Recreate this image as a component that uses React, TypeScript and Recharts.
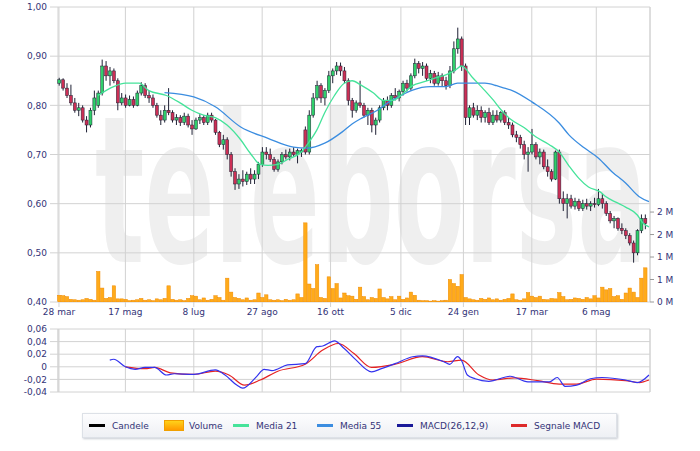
import React from 'react';
import { ComposedChart, Bar, Line, XAxis, YAxis, CartesianGrid } from 'recharts';

// ---- axis / tick data ----
const DAYS = 303; // trading-day slots on the x axis
const tickDays = [0, 34, 69, 104, 139, 175, 207, 242, 275];
const tickLabels = ['28 mar', '17 mag', '8 lug', '27 ago', '16 ott', '5 dic', '24 gen', '17 mar', '6 mag'];
const priceTicks = [400, 500, 600, 700, 800, 900, 1000];
const volTicks = [0, 500, 1000, 1500, 2000];
const volTickLabels = ['0 M', '1 M', '1 M', '2 M', '2 M'];
const macdTicks = [-40, -20, 0, 20, 40, 60];

// ---- candles (every second trading day), [open, high, low, close] in thousandths ----
const ohlc: number[][] = [
  [845, 856, 840, 852], [852, 855, 830, 835], [835, 845, 815, 820], [820, 842, 800, 805], [805, 815, 785, 790],
  [790, 805, 778, 795], [795, 800, 765, 770], [770, 778, 745, 760], [760, 795, 755, 790], [790, 830, 780, 815],
  [800, 830, 795, 825], [825, 893, 820, 880], [880, 890, 850, 860], [860, 878, 840, 870], [870, 875, 845, 850],
  [850, 855, 790, 805], [805, 825, 800, 815], [815, 822, 795, 800], [800, 820, 798, 812], [812, 818, 795, 800],
  [800, 830, 798, 825], [825, 847, 820, 840], [840, 845, 815, 820], [820, 830, 805, 815], [815, 822, 795, 800],
  [800, 805, 775, 780], [780, 790, 760, 770], [770, 800, 765, 790], [790, 835, 780, 785], [785, 790, 765, 770],
  [770, 782, 760, 775], [775, 780, 758, 765], [765, 785, 760, 778], [778, 783, 755, 760], [760, 770, 740, 752],
  [752, 775, 750, 770], [770, 782, 762, 775], [775, 780, 760, 765], [765, 785, 760, 780], [780, 785, 765, 770],
  [770, 772, 740, 745], [745, 748, 715, 720], [720, 740, 710, 730], [730, 735, 690, 700], [700, 705, 655, 665],
  [665, 672, 628, 640], [640, 660, 630, 650], [650, 668, 635, 645], [645, 665, 638, 660], [660, 672, 640, 650],
  [650, 668, 640, 660], [660, 685, 650, 680], [680, 715, 675, 705], [705, 715, 690, 700], [700, 712, 685, 690],
  [690, 695, 665, 670], [670, 690, 665, 685], [685, 705, 680, 700], [700, 710, 690, 695], [695, 712, 688, 705],
  [705, 715, 695, 700], [700, 712, 682, 708], [705, 712, 695, 708], [750, 757, 700, 705], [705, 790, 700, 780],
  [780, 825, 775, 815], [815, 850, 810, 840], [840, 845, 805, 815], [815, 835, 800, 830], [830, 870, 825, 860],
  [860, 875, 845, 870], [870, 888, 862, 880], [880, 887, 860, 870], [870, 878, 845, 850], [850, 855, 800, 810],
  [810, 815, 775, 790], [790, 810, 785, 805], [805, 850, 795, 800], [800, 805, 775, 780], [780, 795, 760, 790],
  [790, 795, 745, 760], [760, 775, 740, 770], [770, 800, 765, 795], [795, 815, 790, 810], [810, 818, 790, 800],
  [800, 825, 795, 820], [820, 835, 810, 815], [815, 832, 808, 828], [828, 850, 820, 845], [845, 852, 828, 835],
  [835, 865, 830, 860], [860, 895, 855, 885], [885, 890, 865, 875], [875, 888, 860, 880], [880, 885, 850, 855],
  [855, 872, 845, 865], [865, 870, 840, 845], [845, 868, 840, 860], [860, 865, 838, 850], [850, 858, 832, 840],
  [840, 880, 835, 870], [870, 930, 865, 915], [915, 958, 905, 935], [935, 940, 870, 880], [880, 885, 760, 775],
  [775, 800, 760, 795], [795, 805, 775, 780], [780, 800, 770, 790], [790, 798, 765, 775], [775, 790, 765, 785],
  [785, 795, 760, 765], [765, 790, 760, 780], [780, 790, 765, 770], [770, 788, 765, 785], [785, 790, 760, 765],
  [765, 775, 752, 760], [760, 765, 735, 740], [740, 748, 725, 735], [735, 740, 712, 720], [720, 728, 690, 700],
  [700, 715, 665, 705], [705, 752, 700, 720], [720, 725, 690, 695], [695, 712, 680, 705], [705, 710, 670, 675],
  [675, 690, 655, 665], [665, 670, 645, 650], [650, 708, 648, 705], [705, 710, 600, 610], [610, 625, 585, 600],
  [600, 620, 570, 610], [610, 618, 590, 595], [595, 612, 588, 605], [605, 610, 585, 590], [590, 608, 585, 600],
  [600, 610, 588, 595], [595, 605, 585, 600], [600, 612, 592, 598], [598, 630, 595, 610], [610, 620, 590, 600],
  [600, 605, 575, 580], [580, 585, 560, 565], [565, 575, 550, 570], [570, 572, 545, 550], [550, 560, 538, 545],
  [545, 550, 528, 535], [535, 540, 515, 520], [520, 525, 480, 500], [500, 548, 495, 545], [545, 578, 540, 570],
  [570, 578, 548, 560],
];

// ---- volume (thousands of shares), same days as candles ----
const volume = [
  150, 140, 120, 60, 50, 40, 50, 80, 60, 40, 680, 310, 80, 100, 360, 70, 70, 60, 30, 40,
  50, 80, 40, 50, 30, 70, 50, 80, 360, 60, 40, 50, 30, 80, 140, 130, 50, 90, 40, 60,
  140, 100, 40, 530, 220, 100, 80, 50, 90, 40, 50, 200, 100, 160, 50, 40, 50, 30, 60, 40,
  50, 180, 100, 1760, 400, 300, 830, 100, 80, 560, 300, 410, 90, 200, 140, 130, 60, 330, 120, 50,
  100, 80, 290, 100, 70, 120, 50, 130, 60, 90, 220, 150, 40, 30, 30, 20, 30, 20, 30, 40,
  500, 410, 350, 610, 100, 70, 50, 40, 80, 60, 90, 50, 70, 40, 60, 80, 180, 50, 40, 70,
  210, 130, 100, 130, 60, 50, 80, 70, 210, 120, 50, 60, 90, 80, 60, 100, 70, 140, 90, 330,
  270, 300, 120, 140, 60, 200, 310, 220, 100, 530, 760,
];

// ---- moving averages, [day, value] ----
const ma21: number[][] = [
  [20, 820], [28, 838], [34, 845], [41, 845], [46, 830], [55, 820], [62, 805], [68, 790], [74, 780], [80, 775],
  [86, 760], [93, 730], [98, 702], [103, 680], [107, 678], [112, 680], [117, 690], [124, 705], [127, 720], [132, 750],
  [136, 785], [141, 820], [146, 845], [150, 850], [155, 840], [161, 825], [166, 810], [171, 810], [175, 820], [181, 840],
  [187, 848], [192, 855], [198, 862], [203, 872], [206, 880], [212, 855], [218, 830], [222, 812], [226, 792], [231, 772],
  [238, 755], [244, 736], [251, 720], [256, 705], [261, 677], [266, 652], [271, 634], [277, 624], [280, 614], [285, 603],
  [290, 593], [296, 577], [299, 560], [302, 553],
];
const ma55: number[][] = [
  [54, 826], [69, 817], [80, 797], [93, 756], [107, 733], [120, 715], [127, 713], [136, 723], [145, 746], [150, 762],
  [155, 774], [163, 790], [169, 807], [175, 820], [181, 831], [190, 838], [198, 838], [204, 845], [212, 845], [218, 845],
  [224, 840], [228, 835], [232, 830], [242, 807], [256, 764], [261, 740], [269, 713], [276, 693], [283, 665], [290, 642],
  [297, 614], [302, 604],
];

// ---- MACD (thousandths), [day, value] ----
const macdLine: number[][] = [
  [26, 10.6], [28, 12], [34, 0], [39, -4], [44, -1], [49, -1], [55, -13], [59, -11], [69, -12], [80, -5],
  [85, -13], [91, -29], [94, -34], [101, -16], [105, -4], [109, -6], [117, 3], [126, 5], [132, 32], [135, 33],
  [141, 41], [146, 29], [152, 11], [160, -8], [165, -3], [172, 5], [181, 16], [186, 17.5], [197, 8], [200, 4],
  [204, 16], [206, 10], [209, -13], [213, -19], [220, -23], [231, -15], [240, -24], [251, -24], [255, -17], [259, -31],
  [265, -29], [272, -19], [278, -17], [290, -21], [296, -25], [302, -13],
];
const signalLine: number[][] = [
  [34, 0], [44, -3], [49, -1], [57, -9.5], [69, -12], [80, -7], [87, -13], [95, -29], [103, -21], [112, -7],
  [126, 4], [135, 26.5], [143, 37], [151, 21], [160, -1], [172, 4], [186, 16], [199, 8], [206, 10.6], [215, -13],
  [222, -21], [233, -17.5], [245, -22], [256, -27.6], [265, -27.6], [275, -19.6], [290, -22], [297, -25], [302, -21],
];

// ---- legend ----
const legendItems = [
  { label: 'Candele', color: '#000000', kind: 'line' },
  { label: 'Volume', color: '#ffa500', kind: 'box' },
  { label: 'Media 21', color: '#45e39a', kind: 'line' },
  { label: 'Media 55', color: '#3b8de0', kind: 'line' },
  { label: 'MACD(26,12,9)', color: '#1a1a99', kind: 'line' },
  { label: 'Segnale MACD', color: '#dd2a2a', kind: 'line' },
];
const legendX = [6, 81, 150, 234, 314, 428]; // offsets inside the legend box

// ---- build table ----
type Row = { [k: string]: number | undefined };
const rows: Row[] = [];
for (let i = 0; i < DAYS; i++) rows.push({ i });
ohlc.forEach((c, k) => {
  const r = rows[k * 2];
  r.o = c[0]; r.h = c[1]; r.l = c[2]; r.c = c[3];
  r.vol = volume[k];
});
ma21.forEach(([d, v]) => { rows[d].m21 = v; });
ma55.forEach(([d, v]) => { rows[d].m55 = v; });
macdLine.forEach(([d, v]) => { rows[d].macd = v; });
signalLine.forEach(([d, v]) => { rows[d].sig = v; });

const navy = '#333377';
const font = 'DejaVu Sans';
const tickStyle = { fill: navy, fontSize: 9, fontFamily: font };
const gridColor = '#d2d2d2';

const fmtPrice = (v: number) => (v / 1000).toFixed(2).replace('.', ',');
const fmtMacd = (v: number) => (v === 0 ? '0' : (v / 1000).toFixed(2).replace('.', ','));
const fmtDay = (v: number) => tickLabels[tickDays.indexOf(v)] ?? '';
const fmtVol = (v: number) => volTickLabels[volTicks.indexOf(v)] ?? '';

const Candle = (props: any) => {
  const { x, y, width, height, payload } = props;
  if (!payload || payload.h == null || !isFinite(y) || !isFinite(height)) return null;
  const { o, h, l, c } = payload;
  const yTop = Math.min(y, y + height);
  const yBot = Math.max(y, y + height);
  const cx = x + width / 2;
  const span = h - l || 1;
  const yOf = (v: number) => yTop + ((h - v) / span) * (yBot - yTop);
  const bt = yOf(Math.max(o, c));
  const bb = yOf(Math.min(o, c));
  const up = c >= o;
  return (
    <g>
      <line x1={cx} x2={cx} y1={yTop} y2={yBot} stroke="#1e2034" strokeWidth={1} />
      <rect x={cx - 1.5} y={bt} width={3} height={Math.max(1, bb - bt)} fill={up ? '#2fcf6a' : '#cc2f55'} stroke="#1e2034" strokeWidth={0.5} />
    </g>
  );
};

const VolBar = (props: any) => {
  const { x, y, width, height, payload } = props;
  if (!payload || payload.vol == null || !isFinite(y) || !isFinite(height) || height <= 0) return null;
  const cx = x + width / 2;
  return <rect x={cx - 1.7} y={y} width={3.4} height={height} fill="#ffab1a" stroke="#f08a00" strokeWidth={0.5} />;
};

const candleRange = (d: Row) => (d.h != null ? [d.l as number, d.h as number] : null);

export default function App() {
  return (
    <div style={{ position: 'absolute', left: 0, top: 0, width: 700, height: 451, background: '#fff', overflow: 'hidden' }}>
      <svg width={700} height={320} style={{ position: 'absolute', left: 0, top: 0 }}>
        <text x={95} y={262} transform="matrix(1,0,0,2,0,-262)" fontFamily={font} fontWeight="bold" fontSize={103}
          textLength={552} lengthAdjust="spacingAndGlyphs" fill="#efefef">
          teleborsa
        </text>
      </svg>

      {/* grid, axes and volume */}
      <div style={{ position: 'absolute', left: 0, top: 0 }}>
        <ComposedChart width={700} height={320} data={rows} margin={{ top: 7, right: 0, bottom: 0, left: 0 }}>
          <CartesianGrid yAxisId="p" stroke={gridColor} horizontalValues={priceTicks} />
          <XAxis dataKey="i" type="category" scale="band" ticks={tickDays} interval={0} tickFormatter={fmtDay} height={18}
            tick={tickStyle} tickSize={5} tickMargin={2} axisLine={false} tickLine={{ stroke: gridColor }} />
          <YAxis yAxisId="p" type="number" domain={[400, 1000]} ticks={priceTicks} interval={0} tickFormatter={fmtPrice} width={58}
            tick={tickStyle} tickSize={8} tickMargin={3} axisLine={false} tickLine={{ stroke: gridColor }} allowDataOverflow />
          <YAxis yAxisId="v" orientation="right" type="number" domain={[0, 6560]} ticks={volTicks} interval={0} tickFormatter={fmtVol} width={50}
            tick={tickStyle} tickSize={4} tickMargin={3} axisLine={{ stroke: gridColor }} tickLine={{ stroke: '#999' }} allowDataOverflow />
          <Bar yAxisId="v" dataKey="vol" shape={<VolBar />} isAnimationActive={false} />
        </ComposedChart>
      </div>

      {/* candles and moving averages */}
      <div style={{ position: 'absolute', left: 0, top: 0 }}>
        <ComposedChart width={700} height={320} data={rows} margin={{ top: 7, right: 50, bottom: 18, left: 58 }}>
          <XAxis dataKey="i" type="category" scale="band" hide />
          <YAxis yAxisId="p" type="number" domain={[400, 1000]} hide allowDataOverflow />
          <Bar yAxisId="p" dataKey={candleRange as any} shape={<Candle />} isAnimationActive={false} />
          <Line yAxisId="p" dataKey="m55" type="monotone" stroke="#3b8de0" strokeWidth={1.3} dot={false} connectNulls isAnimationActive={false} />
          <Line yAxisId="p" dataKey="m21" type="monotone" stroke="#45e39a" strokeWidth={1.3} dot={false} connectNulls isAnimationActive={false} />
        </ComposedChart>
      </div>

      {/* MACD panel */}
      <div style={{ position: 'absolute', left: 0, top: 320 }}>
        <ComposedChart width={700} height={80} data={rows} margin={{ top: 9, right: 0, bottom: 8, left: 0 }}>
          <CartesianGrid yAxisId="m" stroke={gridColor} horizontalValues={macdTicks} />
          <XAxis dataKey="i" type="category" scale="band" ticks={tickDays} interval={0} hide />
          <YAxis yAxisId="m" type="number" domain={[-40, 60]} ticks={macdTicks} interval={0} tickFormatter={fmtMacd} width={58}
            tick={tickStyle} tickSize={8} tickMargin={3} axisLine={{ stroke: gridColor }} tickLine={{ stroke: gridColor }} allowDataOverflow />
          <YAxis yAxisId="r" orientation="right" type="number" domain={[-40, 60]} width={50} tick={false} tickLine={false} axisLine={{ stroke: gridColor }} />
          <Line yAxisId="m" dataKey="sig" type="monotone" stroke="#e52222" strokeWidth={1.2} dot={false} connectNulls isAnimationActive={false} />
          <Line yAxisId="m" dataKey="macd" type="monotone" stroke="#3333ee" strokeWidth={1.2} dot={false} connectNulls isAnimationActive={false} />
        </ComposedChart>
      </div>

      {/* legend */}
      <div style={{
        position: 'absolute', left: 82, top: 413, width: 535, height: 25, boxSizing: 'border-box',
        background: 'linear-gradient(#fdfdfe, #eef0f4)', border: '1px solid #dde1e7', boxShadow: '1px 1px 2px #c8ccd4',
        fontFamily: font, fontSize: 9, color: navy,
      }}>
        {legendItems.map((it, k) => (
          <div key={it.label} style={{ position: 'absolute', left: legendX[k], top: 0, height: 23, display: 'flex', alignItems: 'center', whiteSpace: 'nowrap' }}>
            {it.kind === 'box' ? (
              <div style={{ width: 18, height: 9, background: 'linear-gradient(#ffd21a, #ff9a00)', border: '1px solid #f0a000', marginRight: 5 }} />
            ) : (
              <div style={{ width: 16, height: 3, background: it.color, marginRight: 7 }} />
            )}
            <span>{it.label}</span>
          </div>
        ))}
      </div>
    </div>
  );
}
